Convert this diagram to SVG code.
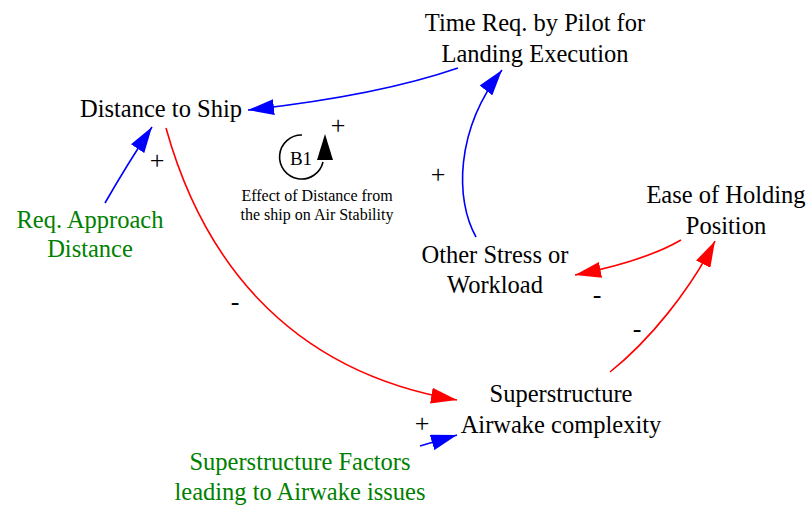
<svg xmlns="http://www.w3.org/2000/svg" width="809" height="506" viewBox="0 0 809 506">
  <style>
    .node { font-size: 24.5px; fill: #000; }
    .ext { font-size: 24.5px; fill: #008000; }
    .pol { font-size: 26px; fill: #000; }
    .loop { font-size: 16px; fill: #000; }
    .blue { fill: none; stroke: #0000ff; stroke-width: 1.6; marker-end: url(#ahBlue); }
    .red { fill: none; stroke: #ff0000; stroke-width: 1.6; marker-end: url(#ahRed); }
  </style>
  <defs>
    <marker id="ahBlue" viewBox="0 0 26 16" refX="26" refY="8" markerWidth="26" markerHeight="16" markerUnits="userSpaceOnUse" orient="auto">
      <path d="M0,0 L26,8 L0,16 z" fill="#0000ff"/>
    </marker>
    <marker id="ahRed" viewBox="0 0 26 16" refX="26" refY="8" markerWidth="26" markerHeight="16" markerUnits="userSpaceOnUse" orient="auto">
      <path d="M0,0 L26,8 L0,16 z" fill="#ff0000"/>
    </marker>
  </defs>
  <rect width="809" height="506" fill="#ffffff"/>

  <g font-family="Liberation Serif, Tinos, Times New Roman, DejaVu Serif, serif" text-anchor="middle">
  <!-- causal links -->
  <g id="connectors">
    <path class="blue" d="M458,68 C400,88 320,102 248,110"/>
    <path class="blue" d="M476,237 C455,200 455,130 502,70"/>
    <path class="blue" d="M105,203 Q128,163 152,127"/>
    <path class="red" d="M166,128 C200,250 280,370 457,400"/>
    <path class="blue" d="M420,446 L457,435"/>
    <path class="red" d="M610,372 C650,340 690,290 715,241"/>
    <path class="red" d="M681,240 C650,258 610,268 575,275"/>
    <!-- polarity signs -->
    <text class="pol" x="157" y="169">+</text>
    <text class="pol" x="438" y="183">+</text>
    <text class="pol" x="235" y="310">-</text>
    <text class="pol" x="422" y="432">+</text>
    <text class="pol" x="637" y="337">-</text>
    <text class="pol" x="597" y="303">-</text>
  </g>

  <g id="time_req">
    <text class="node" x="535" y="31">Time Req. by Pilot for</text>
    <text class="node" x="535" y="62">Landing Execution</text>
  </g>
  <g id="distance_to_ship">
    <text class="node" x="161" y="117">Distance to Ship</text>
  </g>
  <g id="req_approach">
    <text class="ext" x="90" y="228">Req. Approach</text>
    <text class="ext" x="90" y="257">Distance</text>
  </g>
  <g id="other_stress">
    <text class="node" x="495" y="263">Other Stress or</text>
    <text class="node" x="495" y="293">Workload</text>
  </g>
  <g id="ease_holding">
    <text class="node" x="726" y="203">Ease of Holding</text>
    <text class="node" x="726" y="234">Position</text>
  </g>
  <g id="airwake_complexity">
    <text class="node" x="561" y="402">Superstructure</text>
    <text class="node" x="561" y="433">Airwake complexity</text>
  </g>
  <g id="superstructure_factors">
    <text class="ext" x="300" y="470">Superstructure Factors</text>
    <text class="ext" x="300" y="500">leading to Airwake issues</text>
  </g>

  <!-- balancing loop marker -->
  <g id="loop_b1">
    <path d="M302,135 A22,22 0 1 0 323,162" fill="none" stroke="#000" stroke-width="1.6"/>
    <polygon points="325,134 317,160 333,160" fill="#000"/>
    <text x="301" y="165" font-size="19">B1</text>
    <text class="pol" x="338" y="134">+</text>
    <text class="loop" x="317" y="201">Effect of Distance from</text>
    <text class="loop" x="317" y="220">the ship on Air Stability</text>
  </g>
  </g>
</svg>
